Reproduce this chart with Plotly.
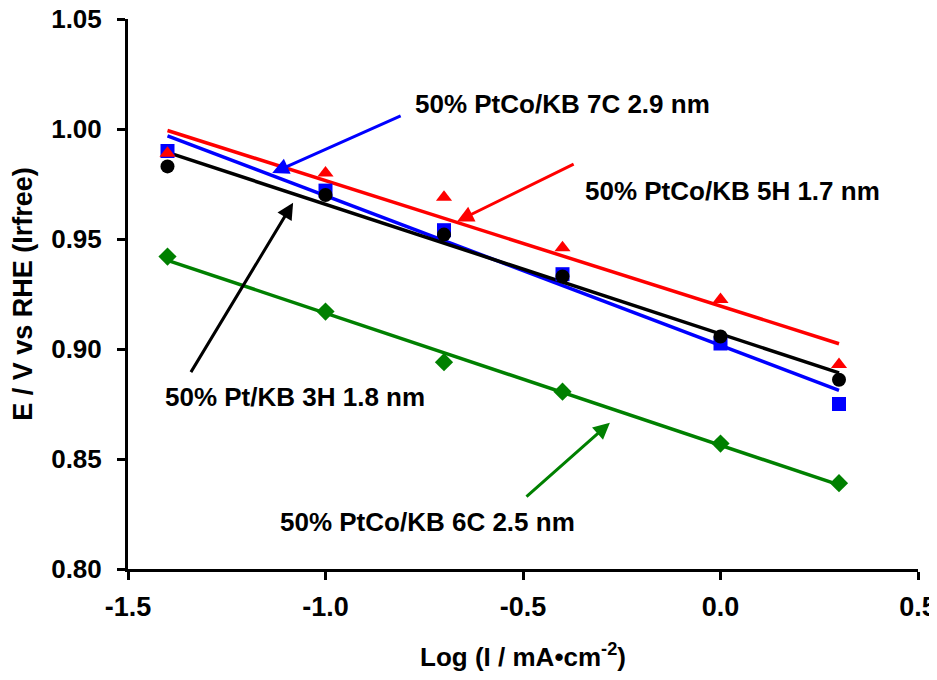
import numpy as np
import plotly.graph_objects as go

# Data
log_i = [-1.4, -1.0, -0.7, -0.4, 0.0, 0.3]
e_ptco_7c = [0.990, 0.972, 0.954, 0.934, 0.9025, 0.875]   # blue squares
e_ptco_5h = [0.989, 0.980, 0.969, 0.946, 0.9225, 0.893]   # red triangles
e_pt_3h = [0.983, 0.970, 0.952, 0.933, 0.9057, 0.886]     # black circles
e_ptco_6c = [0.942, 0.917, 0.894, 0.8806, 0.857, 0.839]   # green diamonds

x_tickvals = [-1.5, -1.0, -0.5, 0.0, 0.5]
x_ticktext = ["-1.5", "-1.0", "-0.5", "0.0", "0.5"]
y_tickvals = [0.80, 0.85, 0.90, 0.95, 1.00, 1.05]
y_ticktext = ["0.80", "0.85", "0.90", "0.95", "1.00", "1.05"]

series = [
    ("50% PtCo/KB 7C 2.9 nm", e_ptco_7c, "#0000FF", "square", 14),
    ("50% PtCo/KB 5H 1.7 nm", e_ptco_5h, "#FF0000", "triangle-up", 14),
    ("50% Pt/KB 3H 1.8 nm", e_pt_3h, "#000000", "circle", 14),
    ("50% PtCo/KB 6C 2.5 nm", e_ptco_6c, "#008000", "diamond", 14),
]

FONT = "Liberation Sans, Arial, Helvetica, sans-serif"
fig = go.Figure()

x_arr = np.array(log_i)
xfit = np.array([x_arr.min(), x_arr.max()])
for name, ys, col, sym, sz in series:
    m, b = np.polyfit(x_arr, np.array(ys), 1)
    fig.add_trace(go.Scatter(x=xfit, y=m * xfit + b, mode="lines",
                             line=dict(color=col, width=3.5), showlegend=False,
                             hoverinfo="skip"))
for name, ys, col, sym, sz in series:
    fig.add_trace(go.Scatter(x=log_i, y=ys, mode="markers", name=name,
                             marker=dict(symbol=sym, size=sz, color=col,
                                         line=dict(width=0)),
                             showlegend=False))

# labels (text) and arrows
labels = [
    ("50% PtCo/KB 7C 2.9 nm", -0.778, 1.0113, -0.806, 1.0063, -1.135, 0.9800, "#0000FF"),
    ("50% PtCo/KB 5H 1.7 nm", -0.348, 0.9720, -0.368, 0.9844, -0.667, 0.9580, "#FF0000"),
    ("50% Pt/KB 3H 1.8 nm", -1.411, 0.8783, -1.343, 0.8888, -1.082, 0.9665, "#000000"),
    ("50% PtCo/KB 6C 2.5 nm", -1.120, 0.8214, -0.495, 0.8323, -0.280, 0.8665, "#008000"),
]
for text, tx, ty, ax_, ay_, hx, hy, col in labels:
    fig.add_annotation(x=tx, y=ty, xref="x", yref="y", text=text, showarrow=False,
                       xanchor="left", yanchor="middle",
                       font=dict(family=FONT, size=26, color="black", weight="bold"))
    fig.add_annotation(x=hx, y=hy, xref="x", yref="y", ax=ax_, ay=ay_,
                       axref="x", ayref="y", text="", showarrow=True,
                       arrowhead=2, arrowsize=1.1, arrowwidth=3, arrowcolor=col)

# the page body adds an 8px offset, so the figure is sized to fit inside the window
fig.update_layout(
    width=929, height=664,
    margin=dict(l=120, r=19, t=11, b=103),
    paper_bgcolor="white", plot_bgcolor="white",
    font=dict(family=FONT, size=24, color="black"),
    showlegend=False,
)
fig.update_xaxes(range=[-1.5, 0.5], tickvals=x_tickvals, ticktext=x_ticktext,
                 automargin=False, ticklabeloverflow="allow",
                 showline=True, linewidth=3, linecolor="black", mirror=False,
                 ticks="outside", ticklen=8, tickwidth=3, tickcolor="black",
                 showgrid=False, zeroline=False, ticklabelstandoff=4,
                 tickfont=dict(family=FONT, size=27, weight="bold"),
                 title=dict(text="Log (I / mA•cm<sup>-2</sup>)", standoff=30,
                            font=dict(family=FONT, size=26, weight="bold")))
fig.update_yaxes(range=[0.80, 1.05], tickvals=y_tickvals, ticktext=y_ticktext,
                 automargin=False, ticklabeloverflow="allow",
                 showline=True, linewidth=3, linecolor="black", mirror=False,
                 ticks="outside", ticklen=8, tickwidth=3, tickcolor="black",
                 showgrid=False, zeroline=False, ticklabelstandoff=10,
                 tickfont=dict(family=FONT, size=26, weight="bold"),
                 title=dict(text="E / V vs RHE (Irfree)", standoff=13,
                            font=dict(family=FONT, size=27, weight="bold")))

fig.write_html("out.html")
